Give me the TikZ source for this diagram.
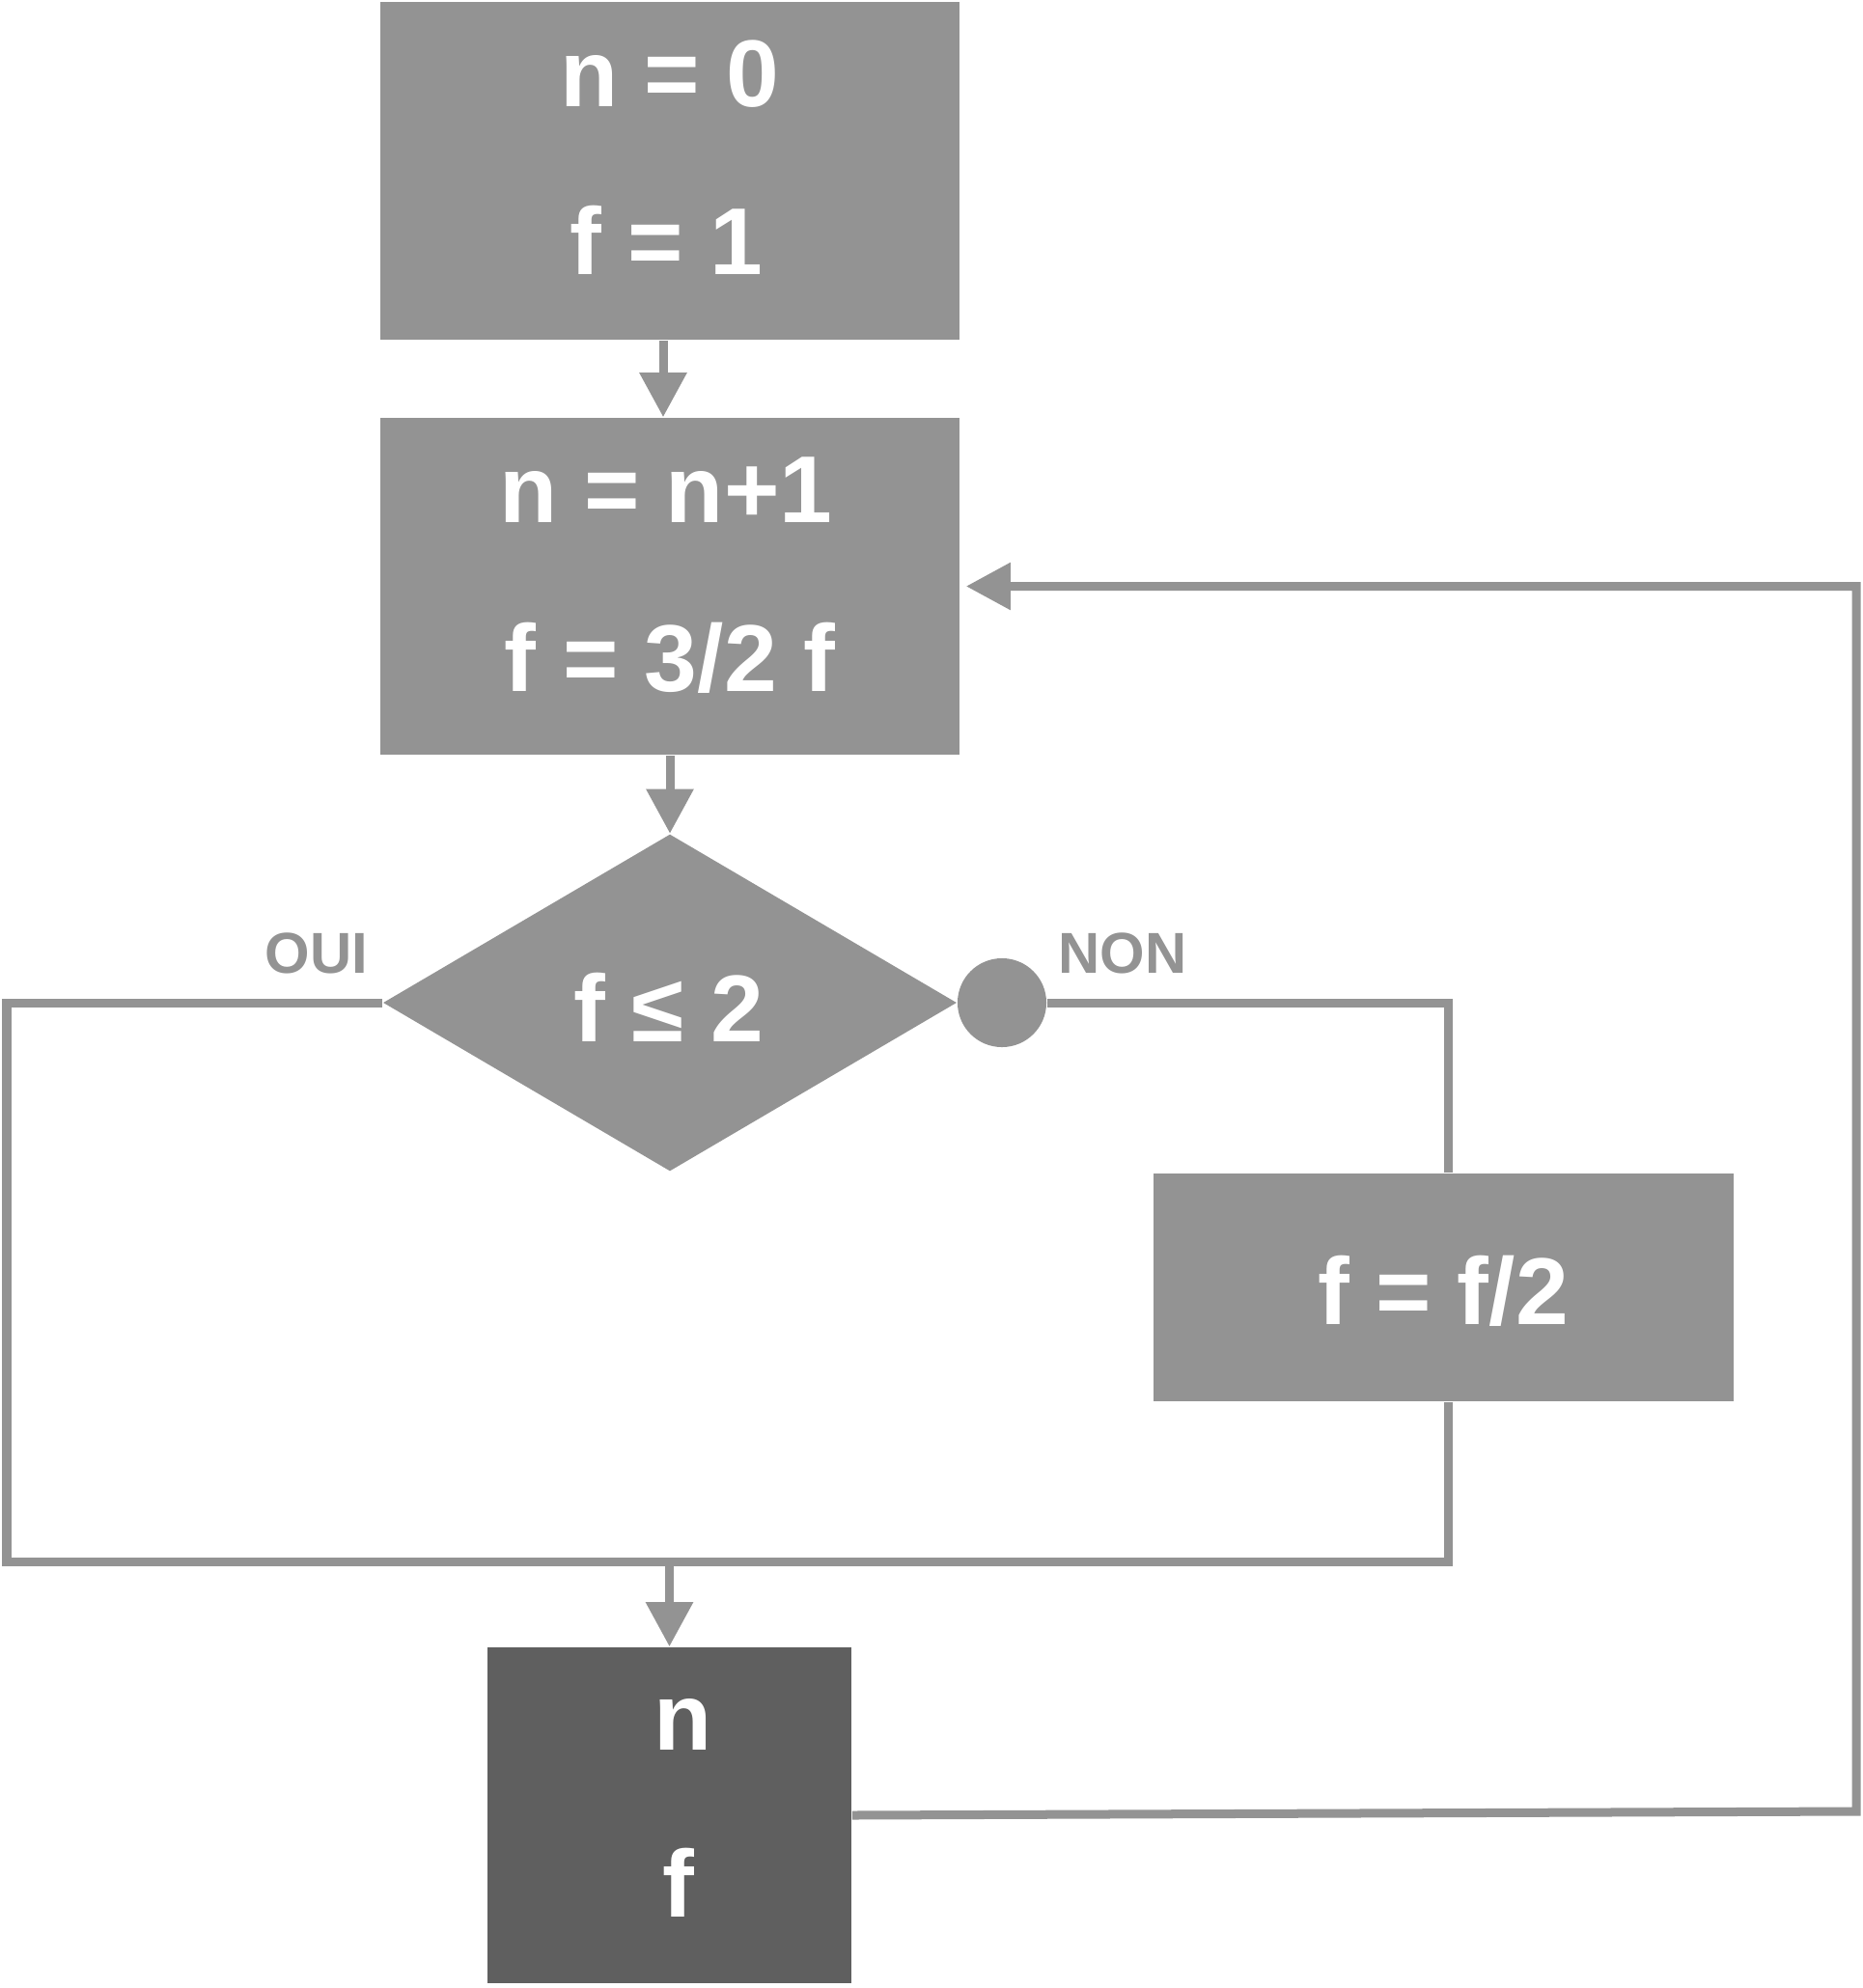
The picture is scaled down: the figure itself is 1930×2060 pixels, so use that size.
\documentclass[tikz,border=0pt]{standalone}
\usepackage{fontspec}
\setmainfont{Liberation Sans}
\usetikzlibrary{arrows.meta,shapes.geometric}
\definecolor{lg}{HTML}{939393}
\definecolor{dg}{HTML}{5F5F5F}
\begin{document}
\begin{tikzpicture}[x=0.01cm,y=-0.01cm,
  box/.style={rectangle,fill=lg,inner sep=0,minimum width=6cm},
  txt/.style={text=white,font=\bfseries\fontsize{28}{34}\selectfont,anchor=base,inner sep=0},
  lbl/.style={text=lg,font=\bfseries\fontsize{17}{20}\selectfont,anchor=base,inner sep=0},
  conn/.style={draw=lg,line width=0.09cm,line join=miter},
  arr/.style={conn,-{Triangle[length=0.46cm,width=0.47cm]}}]
\useasboundingbox (0,0) rectangle (1930,2060);
\fill[white] (0,0) rectangle (1930,2060);

% boxes
\node[box,minimum height=3.5cm] (b1) at (694,177) {};
\node[box,minimum height=3.49cm] (b2) at (694,607.5) {};
\node[diamond,fill=lg,inner sep=0,minimum width=5.94cm,minimum height=3.49cm] (d) at (694,1039) {};
\node[circle,fill=lg,inner sep=0,minimum size=0.92cm] (c) at (1038,1039) {};
\node[box,minimum width=6.01cm,minimum height=2.36cm] (b3) at (1495.5,1334) {};
\node[rectangle,fill=dg,inner sep=0,minimum width=3.77cm,minimum height=3.48cm] (b4) at (693.5,1881) {};

% texts
\node[txt] (t1a) at (694,110) {n = 0};
\node[txt] (t1b) at (690,284) {f = 1};
\node[txt] (t2a) at (690,541) {n = n+1};
\node[txt] (t2b) at (694,716) {f = 3/2 f};
\node[txt] (td) at (693,1079) {f ≤ 2};
\node[txt] (t3) at (1495,1372) {f = f/2};
\node[txt] (t4a) at (708,1813) {n};
\node[txt] (t4b) at (703,1986) {f};
\node[lbl] (oui) at (328,1008) {OUI};
\node[lbl] (non) at (1163,1008) {NON};

% coordinates
\coordinate (nonc) at (1500,1039);
\coordinate (lowr) at (1500,1618);
\coordinate (lowl) at (7,1618);
\coordinate (upl) at (7,1039);
\coordinate (join) at (693.5,1618);
\coordinate (rr) at (1923,1877);
\coordinate (ru) at (1923,607.5);

% connectors
\draw[arr] ([xshift=-0.07cm]b1.south) -- ([xshift=-0.07cm]b2.north);
\draw[arr] (b2.south) -- (d.north);
\draw[conn] (c.east) -- (nonc) -- (nonc |- b3.north);
\draw[conn] (b3.south -| lowr) -- (lowr) -- (lowl) -- (upl) -- (d.west);
\draw[arr] (join) -- (b4.north);
\draw[arr] (b4.east) -- (rr) -- (ru) -- ([xshift=0.06cm]b2.east);
\end{tikzpicture}
\end{document}
